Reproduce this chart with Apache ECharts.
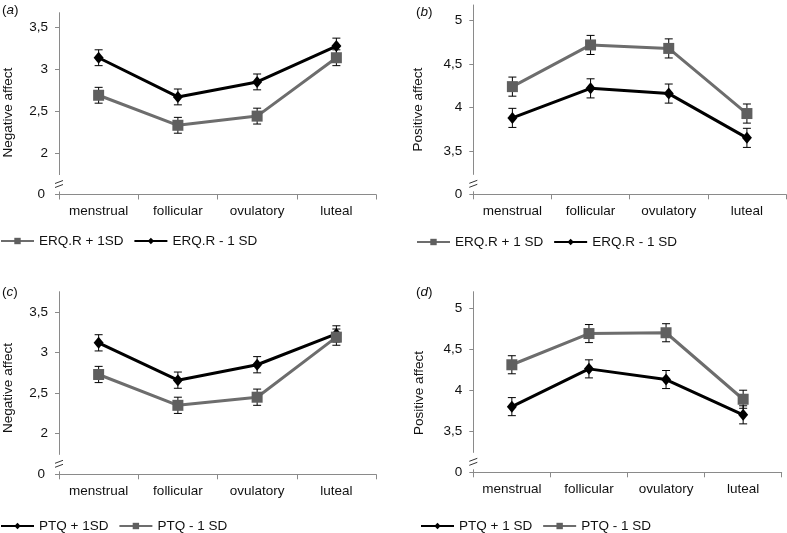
<!DOCTYPE html>
<html><head><meta charset="utf-8">
<script src="https://cdn.jsdelivr.net/npm/echarts@6/dist/echarts.min.js"></script>
<style>html,body{margin:0;padding:0;background:#fff}#c{width:787px;height:533px}</style>
</head><body><div id="c"></div>
<script>
// ---- data ----
const categories = ['menstrual', 'follicular', 'ovulatory', 'luteal'];

// (a) Negative affect by ERQ reappraisal
const aPlusName = 'ERQ.R + 1SD';
const aPlus = [2.69, 2.33, 2.44, 3.14];
const aPlusErr = [0.095, 0.095, 0.095, 0.095];
const aMinusName = 'ERQ.R - 1 SD';
const aMinus = [3.14, 2.67, 2.85, 3.28];
const aMinusErr = [0.095, 0.095, 0.095, 0.095];

// (b) Positive affect by ERQ reappraisal
const bPlusName = 'ERQ.R + 1 SD';
const bPlus = [4.24, 4.72, 4.68, 3.93];
const bPlusErr = [0.11, 0.11, 0.11, 0.11];
const bMinusName = 'ERQ.R - 1 SD ';
const bMinus = [3.88, 4.22, 4.16, 3.65];
const bMinusErr = [0.11, 0.11, 0.11, 0.11];

// (c) Negative affect by PTQ
const cPlusName = 'PTQ + 1SD';
const cPlus = [3.12, 2.66, 2.85, 3.23];
const cPlusErr = [0.1, 0.1, 0.1, 0.1];
const cMinusName = 'PTQ - 1 SD';
const cMinus = [2.73, 2.35, 2.45, 3.19];
const cMinusErr = [0.1, 0.1, 0.1, 0.1];

// (d) Positive affect by PTQ
const dPlusName = 'PTQ + 1 SD';
const dPlus = [3.80, 4.26, 4.13, 3.70];
const dPlusErr = [0.11, 0.11, 0.11, 0.11];
const dMinusName = 'PTQ - 1 SD ';
const dMinus = [4.31, 4.69, 4.70, 3.89];
const dMinusErr = [0.11, 0.11, 0.11, 0.11];

// axis ticks (value positions) and their printed labels (axis is broken: lowest tick prints "0")
const negTicks = [1.5, 2, 2.5, 3, 3.5];
const negTickLabels = ['0', '2', '2,5', '3', '3,5'];
const posTicks = [3, 3.5, 4, 4.5, 5];
const posTickLabels = ['0', '3,5', '4', '4,5', '5'];

const panelLetters = ['a', 'b', 'c', 'd'];
const yNames = ['Negative affect', 'Positive affect', 'Negative affect', 'Positive affect'];

// ---- layout / style ----
const FONT = 'Liberation Sans, Arial, sans-serif';
const TXT = '#111111';
const AXC = '#8a8a8a';
const GRAY = '#6d6d6d';
const BLACK = '#000000';

const grids = [
  {left: 54.3, top: 12.7, width: 321.7, height: 181.8},
  {left: 473.3, top: 5, width: 312.7, height: 189.3},
  {left: 54.3, top: 291.7, width: 321.7, height: 182.6},
  {left: 473.3, top: 291.7, width: 308.4, height: 180.6}
];
const yRanges = [[1.5, 3.68], [3, 5.18], [1.5, 3.75], [3, 5.2]];
const yTickSets = [[negTicks, negTickLabels], [posTicks, posTickLabels], [negTicks, negTickLabels], [posTicks, posTickLabels]];
const nameGaps = [44, 48, 44, 47];
const nameShift = [18, 20, 10, 22];

const panelSeries = [
  [[aPlusName, aPlus, aPlusErr, 'gray'], [aMinusName, aMinus, aMinusErr, 'black']],
  [[bPlusName, bPlus, bPlusErr, 'gray'], [bMinusName, bMinus, bMinusErr, 'black']],
  [[cPlusName, cPlus, cPlusErr, 'black'], [cMinusName, cMinus, cMinusErr, 'gray']],
  [[dPlusName, dPlus, dPlusErr, 'black'], [dMinusName, dMinus, dMinusErr, 'gray']]
];
const legendPos = [{left: 0, top: 234}, {left: 416, top: 235}, {left: 0, top: 519}, {left: 420, top: 519}];
const letterPos = [{left: 2, top: 3}, {left: 416, top: 5}, {left: 2, top: 285}, {left: 416, top: 285}];

function errRender(params, api) {
  const x = api.value(0);
  const lo = api.coord([x, api.value(1)]);
  const hi = api.coord([x, api.value(2)]);
  const w = 4;
  const st = {stroke: '#000', lineWidth: 1};
  return {type: 'group', children: [
    {type: 'line', shape: {x1: lo[0], y1: lo[1], x2: hi[0], y2: hi[1]}, style: st},
    {type: 'line', shape: {x1: lo[0] - w, y1: lo[1], x2: lo[0] + w, y2: lo[1]}, style: st},
    {type: 'line', shape: {x1: hi[0] - w, y1: hi[1], x2: hi[0] + w, y2: hi[1]}, style: st}
  ]};
}

const xAxes = [], yAxes = [], series = [], legends = [], titles = [];
grids.forEach((g, i) => {
  xAxes.push({
    type: 'category', gridIndex: i, data: categories, boundaryGap: true,
    axisLine: {lineStyle: {color: AXC, width: 1}},
    axisTick: {show: true, interval: 0, length: 5, lineStyle: {color: AXC}},
    axisLabel: {color: TXT, fontFamily: FONT, fontSize: 13.5, margin: 10, interval: 0},
    splitLine: {show: false}
  });
  const [tv, tl] = yTickSets[i];
  yAxes.push({
    type: 'value', gridIndex: i, min: yRanges[i][0], max: yRanges[i][1],
    name: yNames[i], nameLocation: 'middle', nameGap: nameGaps[i], nameRotate: 90,
    nameTextStyle: {color: TXT, fontFamily: FONT, fontSize: 13.5, padding: [0, nameShift[i], 0, 0]},
    axisLine: {show: true, lineStyle: {color: AXC, width: 1}},
    axisTick: {show: true, length: 4, customValues: tv, lineStyle: {color: AXC}},
    axisLabel: {color: TXT, fontFamily: FONT, fontSize: 13.5, margin: 11, customValues: tv,
      rich: {z: {color: TXT, fontFamily: FONT, fontSize: 13.5, padding: [0, (i % 2 === 0) ? 3 : 0, 0, 0]}},
      formatter: v => {
        const k = tv.findIndex(t => Math.abs(t - v) < 1e-6);
        if (k < 0) return '';
        return k === 0 ? '{z|' + tl[k] + '}' : tl[k];
      }},
    splitLine: {show: false}
  });
  const names = [];
  panelSeries[i].forEach(([name, vals, errs, col]) => {
    names.push(name);
    const isGray = col === 'gray';
    series.push({
      type: 'line', name: name, xAxisIndex: i, yAxisIndex: i, data: vals,
      symbol: isGray ? 'rect' : 'diamond',
      symbolSize: isGray ? 11 : [10, 12],
      lineStyle: {color: isGray ? GRAY : BLACK, width: 3},
      itemStyle: {color: isGray ? '#5f5f5f' : BLACK},
      z: 3, animation: false
    });
    series.push({
      type: 'custom', xAxisIndex: i, yAxisIndex: i, renderItem: errRender,
      data: vals.map((v, k) => [k, v - errs[k], v + errs[k]]),
      encode: {x: 0, y: [1, 2]}, z: 2, silent: true, animation: false
    });
  });
  legends.push({
    data: names, left: legendPos[i].left, top: legendPos[i].top, orient: 'horizontal',
    padding: 0, itemWidth: 33, itemHeight: 8, itemGap: 10, selectedMode: false,
    textStyle: {color: TXT, fontFamily: FONT, fontSize: 13.5}
  });
  titles.push({
    text: '(' + '{i|' + panelLetters[i] + '})', left: letterPos[i].left, top: letterPos[i].top,
    padding: 0,
    textStyle: {color: TXT, fontFamily: FONT, fontSize: 13.5, fontWeight: 'normal',
      rich: {i: {fontStyle: 'italic', fontFamily: FONT, fontSize: 13.5, color: TXT}}}
  });
});

const chart = echarts.init(document.getElementById('c'));
chart.setOption({
  animation: false,
  backgroundColor: '#fff',
  title: titles,
  grid: grids,
  xAxis: xAxes,
  yAxis: yAxes,
  legend: legends,
  series: series
});

// axis-break decoration on each y axis
const gfx = [];
grids.forEach((g, i) => {
  const p0 = chart.convertToPixel({xAxisIndex: i}, 0);
  const p1 = chart.convertToPixel({xAxisIndex: i}, 1);
  const ax = p0 - (p1 - p0) / 2;
  const yb = chart.convertToPixel({yAxisIndex: i}, yRanges[i][0]);
  gfx.push({type: 'rect', shape: {x: ax - 2, y: yb - 19.5, width: 4, height: 16.5}, style: {fill: '#fff'}, z: 10});
  [12.5, 8.5].forEach(off => {
    gfx.push({type: 'line', shape: {x1: ax - 4, y1: yb - off + 1.5, x2: ax + 4, y2: yb - off - 1.5},
      style: {stroke: '#333', lineWidth: 1}, z: 11});
  });
});
chart.setOption({graphic: gfx});
</script>
</body></html>
